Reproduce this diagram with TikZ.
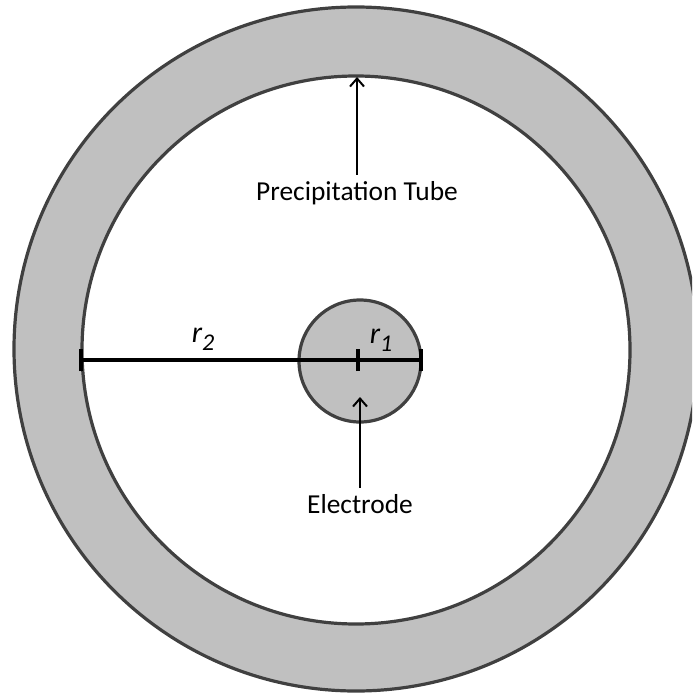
\documentclass[tikz,border=0pt]{standalone}
\usepackage{fontspec}
\setmainfont{Carlito}
\usetikzlibrary{arrows.meta,positioning}
\definecolor{ringgray}{HTML}{C0C0C0}
\definecolor{edgegray}{HTML}{404040}
\tikzset{
  wall/.style  ={draw=edgegray,line width=1.6pt},
  ar/.style    ={-{Straight Barb[length=4pt,width=7pt,line width=1pt]},line width=1pt},
  rad/.style   ={line width=1.8pt},
  tick/.style  ={line width=2.2pt},
  lbl/.style   ={font=\fontsize{13.7}{16}\selectfont,inner sep=1pt},
  rlbl/.style  ={font=\fontsize{15}{18}\selectfont\itshape,inner sep=0pt},
}
\newcommand{\rsub}[1]{r\raisebox{-4pt}{\fontsize{12}{14}\selectfont #1}}

\begin{document}
\begin{tikzpicture}[x=0.5pt,y=-0.5pt]
  \useasboundingbox (0,0) rectangle (692,695);
  \clip (0,0) rectangle (692,695);
  % tube wall and electrode
  \fill[ringgray] (356,349) circle (342);
  \draw[wall] (356,349) circle (342);
  \fill[white] (356,350) circle (274);
  \draw[wall] (356,350) circle (274);
  \filldraw[wall,fill=ringgray] (360,361) circle (61);
  % radii
  \coordinate (wallL) at (81,360);
  \coordinate (ctr) at (358,360);
  \coordinate (elecR) at (421,360);
  \draw[rad] (wallL) -- (elecR);
  \foreach \p in {wallL,ctr,elecR}{\draw[tick] ([yshift=-5.5pt]\p) -- ([yshift=5.5pt]\p);}
  \node[rlbl] (r2) at (203,339) {\rsub{2}};
  \node[rlbl] (r1) at (381,340) {\rsub{1}};
  % labels
  \node[lbl] (tube) at (357,193) {Precipitation Tube};
  \coordinate (tubetip) at (357,77);
  \draw[ar] ([yshift=2pt]tube.north) -- (tubetip);
  \node[lbl] (elec) at (360,504) {Electrode};
  \coordinate (electip) at (360,397);
  \draw[ar] ([yshift=2pt]elec.north) -- (electip);
\end{tikzpicture}
\end{document}
